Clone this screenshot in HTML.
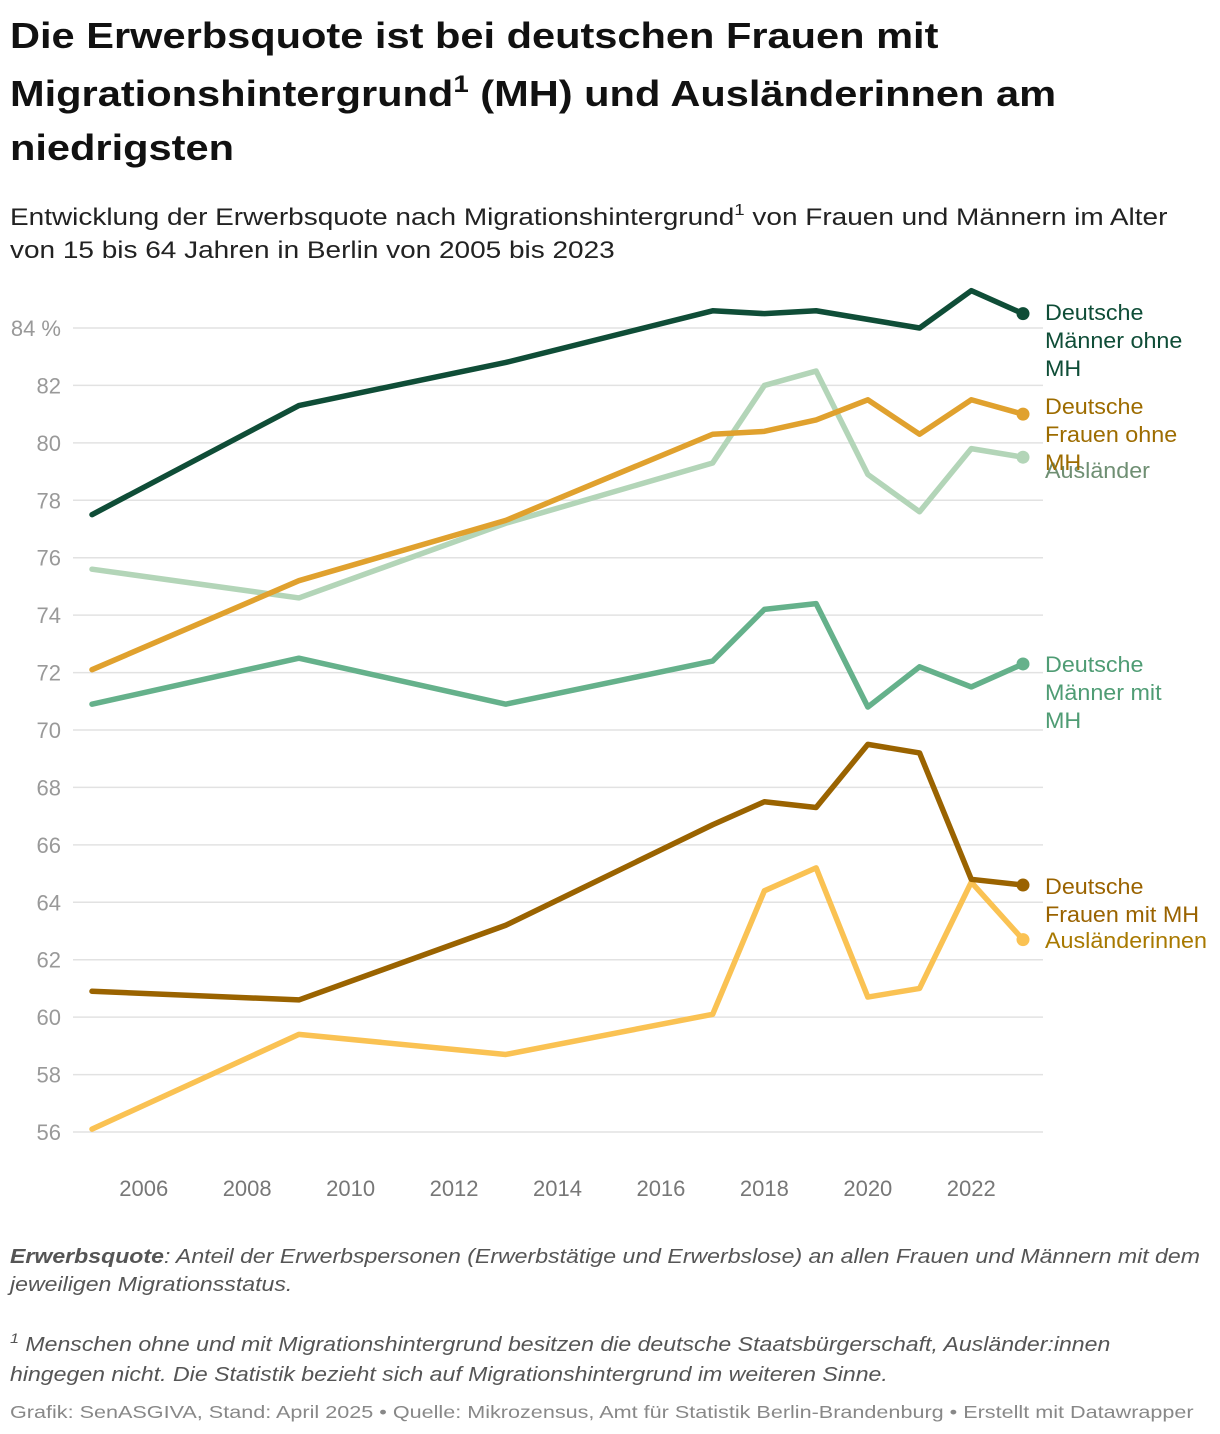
<!DOCTYPE html>
<html><head><meta charset="utf-8"><style>
body{margin:0;background:#fff;font-family:"Liberation Sans",sans-serif}
svg{display:block}
</style></head><body>
<svg id="c" width="1220" height="1434">
<g font-weight="bold" font-size="36" fill="#111" transform="translate(10,0) scale(1.155,1) translate(-10,0)">
<text x="10" y="48">Die Erwerbsquote ist bei deutschen Frauen mit</text>
<text x="10" y="106">Migrationshintergrund<tspan font-size="24" dy="-14">1</tspan><tspan dy="14"> (MH) und Ausländerinnen am</tspan></text>
<text x="10" y="160">niedrigsten</text>
</g>
<g font-size="24" fill="#222" transform="translate(10,0) scale(1.166,1) translate(-10,0)">
<text x="10" y="225">Entwicklung der Erwerbsquote nach Migrationshintergrund<tspan font-size="16" dy="-10">1</tspan><tspan dy="10"> von Frauen und Männern im Alter</tspan></text>
<text x="10" y="258">von 15 bis 64 Jahren in Berlin von 2005 bis 2023</text>
</g>
<g id="grid"></g><g id="lines"></g><g id="labels"></g>
<g font-size="20" font-style="italic" fill="#555" transform="translate(10,0) scale(1.155,1) translate(-10,0)">
<text x="10" y="1263"><tspan font-weight="bold">Erwerbsquote</tspan>: Anteil der Erwerbspersonen (Erwerbstätige und Erwerbslose) an allen Frauen und Männern mit dem</text>
<text x="10" y="1291">jeweiligen Migrationsstatus.</text>
<text x="10" y="1351"><tspan font-size="14" dy="-8">1</tspan><tspan dy="8"> Menschen ohne und mit Migrationshintergrund besitzen die deutsche Staatsbürgerschaft, Ausländer:innen</tspan></text>
<text x="10" y="1381">hingegen nicht. Die Statistik bezieht sich auf Migrationshintergrund im weiteren Sinne.</text>
</g>
<text x="10" y="1418" font-size="18" fill="#888" transform="translate(10,0) scale(1.2,1) translate(-10,0)">Grafik: SenASGIVA, Stand: April 2025 • Quelle: Mikrozensus, Amt für Statistik Berlin-Brandenburg • Erstellt mit Datawrapper</text>
</svg>
<script>
const years=[2005,2009,2013,2017,2018,2019,2020,2021,2022,2023];
const mOhne=[77.5,81.3,82.8,84.6,84.5,84.6,84.3,84.0,85.3,84.5];
const fOhne=[72.1,75.2,77.3,80.3,80.4,80.8,81.5,80.3,81.5,81.0];
const auslaender=[75.6,74.6,77.2,79.3,82.0,82.5,78.9,77.6,79.8,79.5];
const mMit=[70.9,72.5,70.9,72.4,74.2,74.4,70.8,72.2,71.5,72.3];
const fMit=[60.9,60.6,63.2,66.7,67.5,67.3,69.5,69.2,64.8,64.6];
const auslaenderinnen=[56.1,59.4,58.7,60.1,64.4,65.2,60.7,61.0,64.7,62.7];
const yTicks=[56,58,60,62,64,66,68,70,72,74,76,78,80,82,84];
const xTicks=[2006,2008,2010,2012,2014,2016,2018,2020,2022];
const NS="http://www.w3.org/2000/svg";
const x=v=>92+(v-2005)*(1023-92)/18;
const y=v=>328+(84-v)*(1132-328)/28;
function mk(t,a,p){const e=document.createElementNS(NS,t);for(const k in a)e.setAttribute(k,a[k]);p.appendChild(e);return e;}
const G=document.getElementById('grid');
yTicks.forEach(t=>{
 const l=mk('line',{x1:73,x2:1043,y1:y(t),y2:y(t),stroke:'#e2e2e2','stroke-width':1.5},G);
 
 
 const tx=mk('text',{x:61,y:y(t)+8,'text-anchor':'end','font-size':22,fill:'#999'},G);
 tx.textContent=t===84?'84 %':t;
 
 
});
xTicks.forEach(t=>{
 const tx=mk('text',{x:x(t),y:1196,'text-anchor':'middle','font-size':22,fill:'#777'},G);
 tx.textContent=t;
 
 
});
const series=[
 {d:auslaender,c:'#b3d5b8',lc:'#6f8f73',n:'auslaender',lab:['Ausländer'],ly:478},
 {d:mMit,c:'#65b18b',lc:'#4f9c74',n:'deutsche-maenner-mit-mh',lab:['Deutsche','Männer mit','MH'],ly:672},
 {d:auslaenderinnen,c:'#fac253',lc:'#a87900',n:'auslaenderinnen',lab:['Ausländerinnen'],ly:948},
 {d:fMit,c:'#9a6300',lc:'#9a6300',n:'deutsche-frauen-mit-mh',lab:['Deutsche','Frauen mit MH'],ly:894},
 {d:fOhne,c:'#e0a12e',lc:'#9d6c00',n:'deutsche-frauen-ohne-mh',lab:['Deutsche','Frauen ohne','MH'],ly:414},
 {d:mOhne,c:'#0f4d37',lc:'#0f4d37',n:'deutsche-maenner-ohne-mh',lab:['Deutsche','Männer ohne','MH'],ly:320}
];
const L=document.getElementById('lines'),LB=document.getElementById('labels');
series.forEach(s=>{
 const p=mk('polyline',{points:years.map((yr,i)=>x(yr)+','+y(s.d[i])).join(' '),fill:'none',stroke:s.c,'stroke-width':5.5,'stroke-linejoin':'round','stroke-linecap':'round'},L);
 
 
 const last=s.d[s.d.length-1];
 const dot=mk('circle',{cx:x(2023),cy:y(last),r:6.5,fill:s.c},L);
 
 
 const t=mk('text',{x:1045,y:s.ly,'font-size':22,fill:s.lc,transform:'translate(1045,0) scale(1.06,1) translate(-1045,0)'},LB);
 s.lab.forEach((w,i)=>{const ts=mk('tspan',{x:1045,dy:i?28:0},t);ts.textContent=w;});
 
 
});
</script>
</body></html>
